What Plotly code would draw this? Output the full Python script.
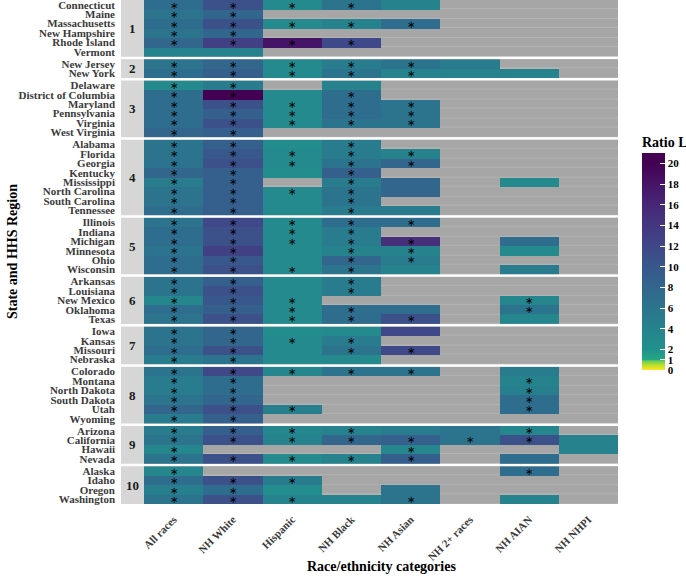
import plotly.graph_objects as go
from plotly.subplots import make_subplots

N = None

regions = ["1", "2", "3", "4", "5", "6", "7", "8", "9", "10"]
region_states = [
    ["Connecticut", "Maine", "Massachusetts", "New Hampshire", "Rhode Island", "Vermont"],
    ["New Jersey", "New York"],
    ["Delaware", "District of Columbia", "Maryland", "Pennsylvania", "Virginia", "West Virginia"],
    ["Alabama", "Florida", "Georgia", "Kentucky", "Mississippi", "North Carolina", "South Carolina", "Tennessee"],
    ["Illinois", "Indiana", "Michigan", "Minnesota", "Ohio", "Wisconsin"],
    ["Arkansas", "Louisiana", "New Mexico", "Oklahoma", "Texas"],
    ["Iowa", "Kansas", "Missouri", "Nebraska"],
    ["Colorado", "Montana", "North Dakota", "South Dakota", "Utah", "Wyoming"],
    ["Arizona", "California", "Hawaii", "Nevada"],
    ["Alaska", "Idaho", "Oregon", "Washington"],
]
categories = ["All races", "NH White", "Hispanic", "NH Black", "NH Asian", "NH 2+ races", "NH AIAN", "NH NHPI"]

# values, in state order (region 1 .. 10)
all_races = [7, 6, 7, 6, 8, 4,
             6, 7,
             3, 7, 7, 7, 7, 8,
             6, 6, 6, 8, 5, 6, 6, 7,
             6, 7, 7, 6, 7, 7,
             6, 6, 3.5, 7, 6,
             6, 6, 7, 5,
             6, 5, 5, 6, 8, 5,
             5, 6, 3.5, 6,
             3.5, 7, 4.5, 6]
nh_white = [11, 8, 11, 8, 13, 4,
            8, 9,
            5, 21, 11, 9, 11, 9,
            9, 10, 11, 9, 9, 9, 9, 9,
            12, 11, 11, 13, 10, 11,
            9, 11, 10, 9, 11,
            8, 8, 11, 6,
            12, 7, 7, 8, 11, 9,
            9, 11, N, 11,
            N, 11, 7, 11]
hispanic = [3, N, 3, N, 18, N,
            3, 3,
            N, 3, 3, 3, 3, N,
            2.5, 3, 3, 2.5, N, 3, 3, 3,
            3, 3, 3, 3, 3, 3,
            3, 3, 3, 3, 3,
            2.5, 3, 3, 3,
            3.5, N, N, N, 4.5, N,
            3.5, 4, N, 3,
            N, 5, 2.5, 4]
nh_black = [6, N, 4, N, 12, N,
            5, 6,
            4, 7, 7, 7, 6, N,
            5, 5, 6, 9, 5, 6, 6, 5,
            7, 5, 5, 4, 8, 6,
            5, 5, N, 7, 7,
            3, 5, 6, 3,
            6, N, N, N, N, N,
            4, 8, N, 4,
            N, N, N, 4]
nh_asian = [4, N, 7, N, N, N,
            6, 4,
            N, N, 6, 6, 6, N,
            N, 4, 8, N, 8, 8, N, 5,
            7, N, 15, 4, 5, 4,
            N, N, N, 7, 11,
            12, N, 12, N,
            6, N, N, N, N, N,
            5, 9, 3.5, 9,
            N, N, 6, 6]
nh_2plus = [N, N, N, N, N, N,
            5, 4,
            N, N, N, N, N, N,
            N, N, N, N, N, N, N, N,
            N, N, N, N, N, N,
            N, N, N, N, N,
            N, N, N, N,
            N, N, N, N, N, N,
            6, 6, N, N,
            N, N, N, N]
nh_aian = [N, N, N, N, N, N,
           N, 4,
           N, N, N, N, N, N,
           N, N, N, N, 3, N, N, N,
           N, N, 7, 3, N, 5,
           N, N, 3.5, 6, 3.5,
           N, N, N, N,
           5, 4, 4.5, 7, 7, N,
           3.5, 11, N, 7,
           7, N, N, 4]
nh_nhpi = [N, N, N, N, N, N,
           N, N,
           N, N, N, N, N, N,
           N, N, N, N, N, N, N, N,
           N, N, N, N, N, N,
           N, N, N, N, N,
           N, N, N, N,
           N, N, N, N, N, N,
           N, 4, 4, N,
           N, N, N, N]

# significance flags (1 = asterisk)
all_races_sig = [1, 1, 1, 1, 1, 0, 1, 1, 1, 1, 1, 1, 1, 1, 1, 1, 1, 1, 1, 1, 1, 1, 1, 1, 1, 1, 1, 1,
                 1, 1, 1, 1, 1, 1, 1, 1, 1, 1, 1, 1, 1, 1, 1, 1, 1, 1, 1, 1, 1, 1, 1]
nh_white_sig = [1, 1, 1, 1, 1, 0, 1, 1, 1, 1, 1, 1, 1, 1, 1, 1, 1, 1, 1, 1, 1, 1, 1, 1, 1, 1, 1, 1,
                1, 1, 1, 1, 1, 1, 1, 1, 1, 1, 1, 1, 1, 1, 1, 1, 1, 0, 1, 0, 1, 1, 1]
hispanic_sig = [1, 0, 1, 0, 1, 0,
                1, 1,
                0, 0, 1, 1, 1, 0,
                0, 1, 1, 0, 0, 1, 0, 0,
                1, 1, 1, 0, 0, 1,
                0, 0, 1, 1, 1,
                0, 1, 0, 0,
                1, 0, 0, 0, 1, 0,
                1, 1, 0, 1,
                0, 1, 0, 1]
nh_black_sig = [1, 0, 1, 0, 1, 0,
                1, 1,
                0, 1, 1, 1, 1, 0,
                1, 1, 1, 1, 1, 1, 1, 1,
                1, 1, 1, 1, 1, 1,
                1, 1, 0, 1, 1,
                0, 1, 1, 0,
                1, 0, 0, 0, 0, 0,
                1, 1, 0, 1,
                0, 0, 0, 0]
nh_asian_sig = [0, 0, 1, 0, 0, 0,
                1, 1,
                0, 0, 1, 1, 1, 0,
                0, 1, 1, 0, 0, 0, 0, 0,
                1, 0, 1, 1, 1, 0,
                0, 0, 0, 0, 1,
                0, 0, 1, 0,
                1, 0, 0, 0, 0, 0,
                0, 1, 1, 1,
                0, 0, 0, 1]
nh_2plus_sig = [0] * 43 + [0, 1, 0, 0] + [0] * 4
nh_aian_sig = [0] * 30 + [1, 1, 0] + [0] * 4 + [0, 1, 1, 1, 1, 0] + [1, 1, 0, 0] + [1, 0, 0, 0]
nh_nhpi_sig = [0] * 51

value_cols = [all_races, nh_white, hispanic, nh_black, nh_asian, nh_2plus, nh_aian, nh_nhpi]
sig_cols = [all_races_sig, nh_white_sig, hispanic_sig, nh_black_sig, nh_asian_sig,
            nh_2plus_sig, nh_aian_sig, nh_nhpi_sig]

ZMAX = 21.0
color_stops = [(0, "#fde725"), (0.5, "#b5de2b"), (0.9, "#5ec962"), (1.0, "#22a884"),
               (2.0, "#21918c"), (5.5, "#2a788e"), (9.0, "#355f8d"), (12.5, "#414487"),
               (16.3, "#482475"), (20.0, "#440154"), (21.0, "#440154")]
colorscale = [[v / ZMAX, c] for v, c in color_stops]

counts = [len(s) for s in region_states]
nrows = len(regions)
fig = make_subplots(rows=nrows, cols=1, shared_xaxes=True, row_heights=counts,
                    vertical_spacing=0.005)

FONT = "Liberation Serif, Times New Roman, serif"
idx = 0
for r, states in enumerate(region_states):
    n = len(states)
    z = [[value_cols[c][idx + i] for c in range(len(categories))] for i in range(n)]
    txt = [["\u2217" if (sig_cols[c][idx + i] and value_cols[c][idx + i] is not None) else ""
            for c in range(len(categories))] for i in range(n)]
    miss = [[1 if value_cols[c][idx + i] is None else None for c in range(len(categories))]
            for i in range(n)]
    idx += n
    fig.add_trace(go.Heatmap(x=categories, y=states, z=miss, showscale=False,
                             colorscale=[[0, "#a6a6a6"], [1, "#a6a6a6"]], ygap=1,
                             hoverinfo="skip"), row=r + 1, col=1)
    fig.add_trace(go.Heatmap(x=categories, y=states, z=z, coloraxis="coloraxis",
                             text=txt, texttemplate="%{text}",
                             textfont=dict(size=10, color="black", family="DejaVu Sans")),
                  row=r + 1, col=1)

W, H = 686, 576
ml, mr, mt, mb = 144, 68, 0, 72
pw = W - ml - mr
ph = H - mt - mb

for r in range(nrows):
    ya = "yaxis" if r == 0 else f"yaxis{r + 1}"
    fig.layout[ya].update(autorange="reversed", type="category", showgrid=False,
                          zeroline=False, ticks="", ticklabelstandoff=28, automargin=False,
                          tickmode="array", tickvals=region_states[r], ticktext=region_states[r],
                          tickfont=dict(family=FONT, size=11, color="#3b3b3b", weight="bold"))
    xa = "xaxis" if r == 0 else f"xaxis{r + 1}"
    fig.layout[xa].update(showgrid=False, zeroline=False, ticks="", tickangle=-45,
                          automargin=False, ticklabelstandoff=6,
                          tickfont=dict(family=FONT, size=11, color="#3b3b3b", weight="bold"))
    dom = fig.layout[ya].domain
    fig.add_shape(type="rect", xref="paper", yref="paper", x0=-23 / pw, x1=0,
                  y0=dom[0], y1=dom[1], fillcolor="#d6d6d6", line_width=0, layer="below")
    fig.add_annotation(xref="paper", yref="paper", x=-11.5 / pw, y=(dom[0] + dom[1]) / 2,
                       xanchor="center", yanchor="middle",
                       text=regions[r], showarrow=False,
                       font=dict(family=FONT, size=13, color="#1a1a1a", weight="bold"))

fig.add_annotation(xref="paper", yref="paper", x=(12 - ml) / pw, y=(ph - 252) / ph,
                   xanchor="center", yanchor="middle", textangle=-90,
                   text="State and HHS Region", showarrow=False,
                   font=dict(family=FONT, size=14, color="black", weight="bold"))
fig.add_annotation(xref="paper", yref="paper", x=(381 - ml) / pw, y=(ph - 566) / ph,
                   xanchor="center", yanchor="middle",
                   text="Race/ethnicity categories", showarrow=False,
                   font=dict(family=FONT, size=14, color="black", weight="bold"))

tickvals = [0, 1, 2, 4, 6, 8, 10, 12, 14, 16, 18, 20]
fig.update_layout(
    width=W, height=H,
    margin=dict(l=ml, r=mr, t=mt, b=mb, autoexpand=False),
    paper_bgcolor="white", plot_bgcolor="#b3b3b3",
    coloraxis=dict(cmin=0, cmax=ZMAX, colorscale=colorscale,
                   colorbar=dict(x=(642 - ml) / pw, xanchor="left", xpad=0,
                                 y=(ph - 251.5) / ph, yanchor="middle", ypad=0,
                                 len=237 / ph, lenmode="fraction", thickness=23,
                                 outlinewidth=0, tickvals=tickvals,
                                 ticktext=[str(v) for v in tickvals],
                                 ticks="inside", tickcolor="white", ticklen=5,
                                 tickfont=dict(family=FONT, size=11, color="black", weight="bold"),
                                 title=dict(text="Ratio L", side="top",
                                            font=dict(family=FONT, size=14, color="black",
                                                      weight="bold")))),
    showlegend=False,
)

fig.write_html("out.html", config={"displayModeBar": False},
               post_script="document.body.style.margin='0';document.body.style.overflow='hidden';")
